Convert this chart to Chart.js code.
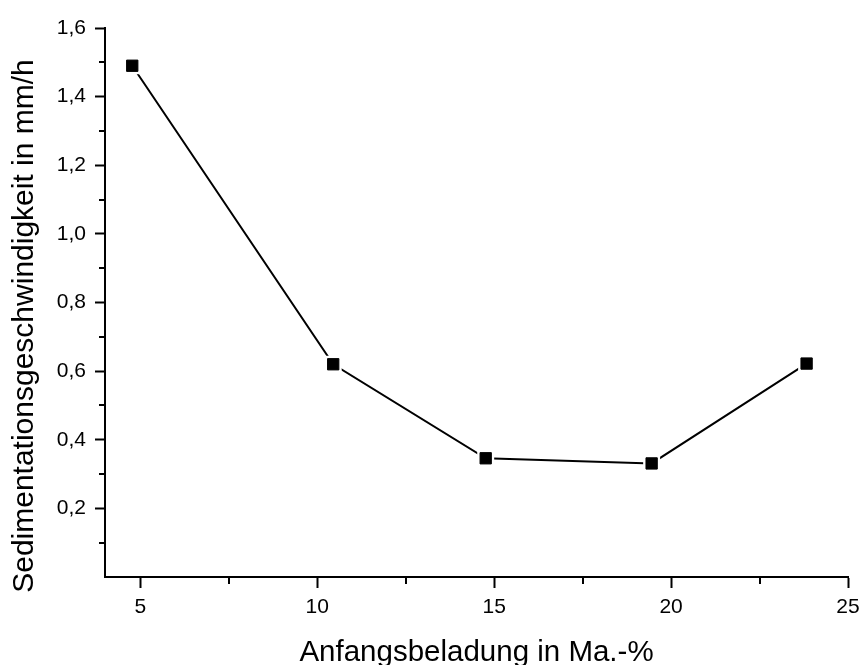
<!DOCTYPE html>
<html>
<head>
<meta charset="utf-8">
<script src="https://cdn.jsdelivr.net/npm/chart.js@4.4.1/dist/chart.umd.min.js"></script>
<style>
  html, body { margin: 0; padding: 0; background: #fff; }
  #wrap { width: 862px; height: 665px; }
</style>
</head>
<body>
<div id="wrap"><canvas id="c" width="862" height="665"></canvas></div>
<script>
// Initial loading (mass-%) vs. sedimentation velocity (mm/h)
const loading = [4.77, 10.45, 14.76, 19.45, 23.83];
const velocity = [1.49, 0.62, 0.346, 0.331, 0.622];

const xMajorTicks = [5, 10, 15, 20, 25];
const xMinorTicks = [7.5, 12.5, 17.5, 22.5];
const yMajorTicks = [0.2, 0.4, 0.6, 0.8, 1.0, 1.2, 1.4, 1.6];
const yMinorTicks = [0.1, 0.3, 0.5, 0.7, 0.9, 1.1, 1.3, 1.5];

const xTitle = 'Anfangsbeladung in Ma.-%';
const yTitle = 'Sedimentationsgeschwindigkeit in mm/h';

const FONT = "'Liberation Sans', Arial, sans-serif";
const points = loading.map((x, i) => ({ x: x, y: velocity[i] }));

// Short outward ticks between the labelled ones
const minorTicks = {
  id: 'minorTicks',
  afterDraw(chart) {
    const ctx = chart.ctx, xs = chart.scales.x, ys = chart.scales.y;
    ctx.save();
    ctx.strokeStyle = '#000';
    ctx.lineWidth = 2;
    ctx.beginPath();
    xMinorTicks.forEach(v => {
      const px = Math.round(xs.getPixelForValue(v));
      ctx.moveTo(px, xs.top);
      ctx.lineTo(px, xs.top + 7);
    });
    yMinorTicks.forEach(v => {
      const py = Math.round(ys.getPixelForValue(v));
      ctx.moveTo(ys.right, py);
      ctx.lineTo(ys.right - 6, py);
    });
    ctx.stroke();
    ctx.restore();
  }
};

// Axis titles
const axisTitles = {
  id: 'axisTitles',
  afterDraw(chart) {
    const ctx = chart.ctx, a = chart.chartArea;
    ctx.save();
    ctx.fillStyle = '#000';
    ctx.textAlign = 'center';
    ctx.textBaseline = 'alphabetic';
    ctx.font = '29.5px ' + FONT;
    ctx.fillText(xTitle, (a.left + a.right) / 2, 661);
    ctx.font = '30px ' + FONT;
    ctx.translate(33, 326);
    ctx.rotate(-Math.PI / 2);
    ctx.fillText(yTitle, 0, 0);
    ctx.restore();
  }
};

new Chart(document.getElementById('c'), {
  type: 'scatter',
  data: {
    datasets: [
      {
        data: points,
        showLine: true,
        borderColor: '#000',
        borderWidth: 2,
        pointRadius: 0,
        tension: 0,
        order: 3
      },
      {
        data: points,
        showLine: false,
        pointStyle: 'rect',
        pointRadius: 12,
        pointBackgroundColor: '#fff',
        pointBorderWidth: 0,
        order: 2
      },
      {
        data: points,
        showLine: false,
        pointStyle: 'rect',
        pointRadius: 8,
        pointBackgroundColor: '#000',
        pointBorderColor: '#000',
        pointBorderWidth: 1,
        order: 1
      }
    ]
  },
  options: {
    responsive: false,
    devicePixelRatio: 1,
    animation: false,
    layout: { padding: { top: 28, right: 14, left: 0, bottom: 0 } },
    plugins: {
      legend: { display: false },
      tooltip: { enabled: false }
    },
    scales: {
      x: {
        type: 'linear',
        min: 4,
        max: 25,
        afterBuildTicks: s => { s.ticks = xMajorTicks.map(v => ({ value: v })); },
        afterFit: s => { s.height = 88; s.paddingLeft = 0; s.paddingRight = 0; },
        ticks: {
          color: '#000',
          font: { family: FONT, size: 21 },
          padding: 7,
          maxRotation: 0,
          callback: v => String(v)
        },
        grid: {
          drawOnChartArea: false,
          drawTicks: true,
          tickLength: 11,
          tickWidth: 2,
          tickColor: '#000'
        },
        border: { display: true, color: '#000', width: 2 }
      },
      y: {
        type: 'linear',
        min: 0,
        max: 1.6,
        afterBuildTicks: s => { s.ticks = yMajorTicks.map(v => ({ value: v })); },
        afterFit: s => { s.width = 105; s.paddingTop = 0; s.paddingBottom = 0; },
        ticks: {
          color: '#000',
          font: { family: FONT, size: 21 },
          padding: 9,
          callback: v => v.toFixed(1).replace('.', ',')
        },
        grid: {
          drawOnChartArea: false,
          drawTicks: true,
          tickLength: 10,
          tickWidth: 2,
          tickColor: '#000'
        },
        border: { display: true, color: '#000', width: 2 }
      }
    }
  },
  plugins: [minorTicks, axisTitles]
});
</script>
</body>
</html>
